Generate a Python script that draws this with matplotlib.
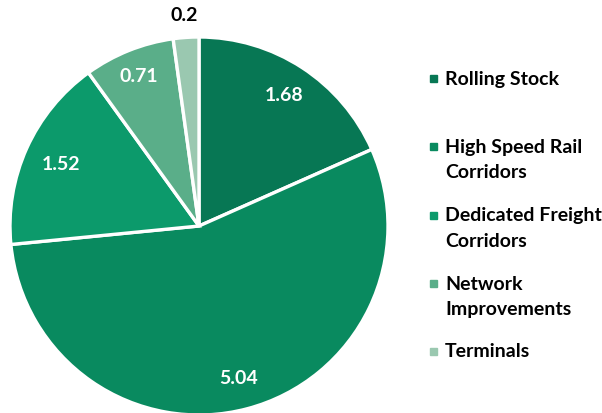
import numpy as np
import matplotlib
matplotlib.use("Agg")
import matplotlib.pyplot as plt
from matplotlib.patches import Rectangle

categories = ["Rolling Stock", "High Speed Rail\nCorridors", "Dedicated Freight\nCorridors",
              "Network\nImprovements", "Terminals"]
values = [1.68, 5.04, 1.52, 0.71, 0.2]
value_labels = ["1.68", "5.04", "1.52", "0.71", "0.2"]
colors = ["#077754", "#098a5f", "#0c9a6b", "#5aae89", "#9ac8b0"]

plt.rcParams.update({"font.family": ["Lato", "DejaVu Sans"], "font.weight": "bold"})

W, H = 602, 414
fig = plt.figure(figsize=(W / 100, H / 100), dpi=100)
cx, cy, r = 199, 227, 189
ax = fig.add_axes([(cx - r) / W, (H - cy - r) / H, 2 * r / W, 2 * r / H])
wedges, _ = ax.pie(values, colors=colors, startangle=90, counterclock=False,
                   wedgeprops=dict(edgecolor="white", linewidth=2.4))
ax.set_xlim(-1, 1)
ax.set_ylim(-1, 1)
ax.set_aspect("equal")
ax.axis("off")

# value labels, placed at the middle angle of each wedge
dists = [0.83, 0.83, 0.80, 0.86, 1.12]
for w, lab, d in zip(wedges, value_labels, dists):
    ang = np.deg2rad((w.theta1 + w.theta2) / 2)
    outside = d > 1
    ax.text(d * np.cos(ang), d * np.sin(ang), lab, ha="center", va="center",
            fontsize=14, fontweight="bold", color="black" if outside else "white",
            clip_on=False)

# legend (marker sits on the first line of each entry)
ys = [79, 147, 216, 284, 352]
for lab, col, y in zip(categories, colors, ys):
    fig.add_artist(Rectangle((430 / W, (H - y - 3.5) / H), 7 / W, 7 / H,
                             transform=fig.transFigure, color=col))
    for i, line in enumerate(lab.split("\n")):
        fig.text(445 / W, (H - y - 26 * i) / H, line, ha="left", va="center",
                 fontsize=14, fontweight="bold", color="black")

fig.savefig("out.png", dpi=100, facecolor="white")
